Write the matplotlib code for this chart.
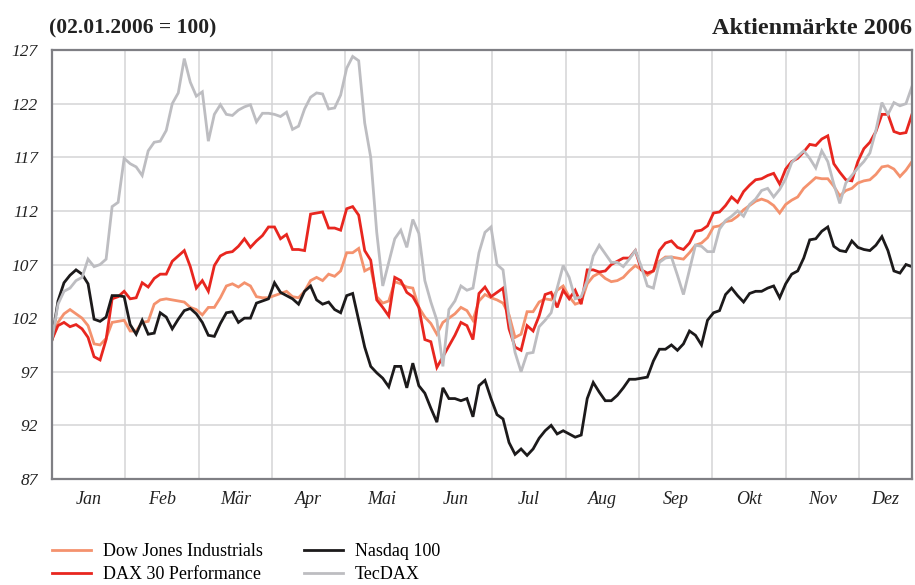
import numpy as np
import matplotlib.pyplot as plt
from matplotlib.ticker import FixedLocator, NullFormatter

plt.rcParams['font.family'] = ['Liberation Serif', 'DejaVu Serif']

# index levels, 02.01.2006 = 100, sampled at equal steps through the year
dow = [100.0, 101.6, 102.4, 102.8, 102.4, 102.0, 101.3, 99.6, 99.5, 100.1,
       101.6, 101.7, 101.8, 100.8, 100.8, 101.6, 101.7, 103.3, 103.7, 103.8,
       103.7, 103.6, 103.5, 103.0, 102.8, 102.3, 103.0, 103.0, 103.9, 105.0,
       105.2, 104.9, 105.3, 105.0, 104.0, 103.9, 103.9, 104.1, 104.3, 104.5,
       104.0, 103.9, 104.5, 105.5, 105.8, 105.5, 106.1, 105.9, 106.4, 108.1,
       108.1, 108.5, 106.4, 106.7, 104.0, 103.4, 103.6, 105.4, 105.2, 104.9,
       104.8, 103.0, 102.1, 101.5, 100.5, 101.6, 102.0, 102.4, 103.0, 102.7,
       101.8, 103.6, 104.2, 103.9, 103.7, 103.4, 102.3, 100.2, 100.5, 102.6,
       102.6, 103.5, 103.8, 103.7, 104.6, 105.0, 104.0, 103.3, 103.5, 105.2,
       105.9, 106.2, 105.7, 105.4, 105.5, 105.8, 106.4, 106.9, 106.5, 106.0,
       106.4, 107.3, 107.7, 107.7, 107.6, 107.5, 108.1, 108.8, 109.0, 109.5,
       110.5, 110.6, 111.0, 111.1, 111.5, 112.1, 112.5, 112.9, 113.1, 112.9,
       112.5, 111.8, 112.6, 113.0, 113.3, 114.1, 114.6, 115.1, 115.0, 115.0,
       114.3, 113.4, 113.9, 114.1, 114.6, 114.8, 114.9, 115.4, 116.1, 116.2,
       115.9, 115.2, 115.8, 116.6]

dax = [100.0, 101.3, 101.6, 101.2, 101.4, 101.0, 100.2, 98.4, 98.1, 100.0,
       103.8, 104.0, 104.5, 103.8, 103.9, 105.3, 104.9, 105.7, 106.1, 106.1,
       107.3, 107.8, 108.3, 106.8, 104.8, 105.5, 104.5, 106.9, 107.8, 108.1,
       108.2, 108.7, 109.4, 108.6, 109.2, 109.7, 110.5, 110.5, 109.4, 109.8,
       108.4, 108.4, 108.3, 111.7, 111.8, 111.9, 110.4, 110.4, 110.2, 112.2,
       112.4, 111.6, 108.3, 107.4, 103.7, 103.0, 102.2, 105.8, 105.5, 104.4,
       104.0, 103.0, 100.0, 99.8, 97.4, 98.4, 99.4, 100.4, 101.6, 101.3,
       100.0, 104.3, 104.9, 104.0, 104.4, 104.8, 101.0, 99.3, 99.0, 101.3,
       100.8, 102.2, 104.2, 104.4, 103.0, 104.6, 103.8, 104.6, 103.3, 106.5,
       106.5, 106.3, 106.4, 107.0, 107.3, 107.6, 107.6, 108.3, 106.5, 106.2,
       106.4, 108.3, 109.0, 109.2, 108.6, 108.4, 109.0, 110.1, 110.2, 110.6,
       111.8, 111.9, 112.5, 113.3, 112.8, 113.8, 114.4, 114.9, 115.0, 115.3,
       115.5, 114.5, 115.9, 116.6, 116.9, 117.5, 118.2, 118.1, 118.7, 119.0,
       116.4, 115.6, 114.9, 114.8, 116.6, 117.8, 118.4, 119.4, 121.0, 121.0,
       119.4, 119.2, 119.3, 121.0]

nasdaq = [100.0, 103.6, 105.3, 106.0, 106.5, 106.1, 105.2, 101.9, 101.7, 102.1,
          104.1, 104.1, 104.0, 101.4, 100.5, 101.8, 100.5, 100.6, 102.5, 102.1,
          101.0, 101.9, 102.7, 102.9, 102.4, 101.6, 100.4, 100.3, 101.5, 102.5,
          102.6, 101.6, 102.0, 102.0, 103.4, 103.6, 103.8, 105.3, 104.4, 104.1,
          103.8, 103.3, 104.5, 105.0, 103.7, 103.3, 103.5, 102.8, 102.5, 104.1,
          104.3, 101.8, 99.3, 97.5, 96.9, 96.4, 95.6, 97.5, 97.5, 95.5,
          97.8, 95.7, 95.0, 93.6, 92.3, 95.5, 94.5, 94.5, 94.3, 94.5,
          92.8, 95.7, 96.2, 94.5, 93.0, 92.6, 90.4, 89.3, 89.8, 89.2,
          89.8, 90.8, 91.5, 92.0, 91.2, 91.5, 91.2, 90.9, 91.1, 94.5,
          96.0, 95.1, 94.3, 94.3, 94.8, 95.5, 96.3, 96.3, 96.4, 96.5,
          98.0, 99.1, 99.1, 99.5, 99.0, 99.6, 100.8, 100.4, 99.5, 101.8,
          102.5, 102.7, 104.2, 104.8, 104.1, 103.5, 104.3, 104.5, 104.5, 104.8,
          105.0, 103.9, 105.2, 106.1, 106.4, 107.6, 109.3, 109.4, 110.1, 110.5,
          108.7, 108.3, 108.2, 109.2, 108.6, 108.4, 108.3, 108.8, 109.6, 108.3,
          106.4, 106.2, 107.0, 106.8]

tecdax = [100.0, 103.3, 104.5, 104.8, 105.5, 105.8, 107.5, 106.8, 107.0, 107.5,
          112.4, 112.8, 116.9, 116.4, 116.1, 115.3, 117.6, 118.4, 118.5, 119.5,
          122.0, 123.0, 126.2, 124.0, 122.7, 123.1, 118.5, 121.0, 121.9, 121.0,
          120.9, 121.4, 121.7, 121.9, 120.3, 121.1, 121.1, 121.0, 120.8, 121.2,
          119.6, 119.9, 121.5, 122.6, 123.0, 122.9, 121.5, 121.6, 122.8, 125.3,
          126.4, 126.0, 120.2, 117.0, 110.0, 105.0, 107.2, 109.4, 110.2, 108.6,
          111.2, 109.9, 105.5, 103.5, 101.8, 97.5, 102.8, 103.6, 105.0, 104.6,
          104.8, 108.1, 110.0, 110.5, 107.0, 106.5, 102.0, 98.8, 97.0, 98.7,
          98.8, 101.2, 101.8, 102.5, 104.8, 106.9, 105.8, 103.8, 104.0, 105.5,
          107.8, 108.8, 108.0, 107.2, 107.2, 106.8, 107.5, 108.3, 106.8, 105.0,
          104.8, 107.2, 107.6, 107.7, 106.0, 104.2, 106.5, 108.8, 108.7, 108.2,
          108.2, 110.3, 111.1, 111.5, 112.0, 111.5, 112.6, 113.1, 113.9, 114.1,
          113.3, 114.0, 115.0, 116.5, 117.1, 117.6, 116.9, 116.0, 117.6, 116.6,
          114.5, 112.7, 114.6, 115.3, 116.0, 116.6, 117.4, 119.5, 122.1, 121.0,
          122.1, 121.8, 122.0, 123.6]

series = [('Dow Jones Industrials', dow, '#f4926e'),
          ('DAX 30 Performance', dax, '#e8261f'),
          ('Nasdaq 100', nasdaq, '#1c1a1b'),
          ('TecDAX', tecdax, '#bdbdc1')]

months = ['Jan', 'Feb', 'Mär', 'Apr', 'Mai', 'Jun', 'Jul', 'Aug', 'Sep', 'Okt', 'Nov', 'Dez']
yticks = [87, 92, 97, 102, 107, 112, 117, 122, 127]

n = len(dow)
days = np.arange(n)
month_len = 12.2  # samples per month
month_edges = [month_len * k for k in range(1, 12)]
month_mid = [month_len * (k + 0.5) for k in range(11)] + [(11 * month_len + n - 1) / 2]

fig = plt.figure(figsize=(9.15, 5.85), dpi=100)
ax = fig.add_axes([0.0568, 0.1812, 0.9399, 0.7333])

for name, vals, col in series:
    ax.plot(days, vals, color=col, lw=2.0, label=name, solid_joinstyle='miter')

ax.set_xlim(0, n - 1)
ax.set_ylim(87, 127)
ax.set_yticks(yticks)
ax.set_yticklabels([str(t) for t in yticks], fontstyle='italic', fontsize=12.5, color='#222222')
ax.xaxis.set_major_locator(FixedLocator(month_edges))
ax.xaxis.set_major_formatter(NullFormatter())
ax.xaxis.set_minor_locator(FixedLocator(month_mid))
ax.set_xticklabels(months, minor=True, fontstyle='italic', fontsize=13, color='#222222')
ax.tick_params(axis='both', which='both', length=0)
ax.tick_params(axis='y', pad=10)
ax.tick_params(axis='x', which='minor', pad=9)
ax.grid(True, which='major', color='#d4d4d6', lw=1.1)
ax.set_axisbelow(True)
for sp in ax.spines.values():
    sp.set_color('#7f7f84')
    sp.set_linewidth(1.6)

fig.text(0.054, 0.952, '(02.01.2006 = 100)', fontsize=15.5, fontweight='bold',
         color='#222222', ha='left', va='center')
fig.text(0.9967, 0.952, 'Aktienmärkte 2006', fontsize=17.5, fontweight='bold',
         color='#222222', ha='right', va='center')

ax.legend(loc='upper left', bbox_to_anchor=(-0.0085, -0.132), ncol=2, frameon=False,
          handlelength=2.15, handletextpad=0.67, columnspacing=2.3,
          labelspacing=0.36, borderaxespad=0, prop={'size': 13})

fig.savefig('out.png', dpi=100)
